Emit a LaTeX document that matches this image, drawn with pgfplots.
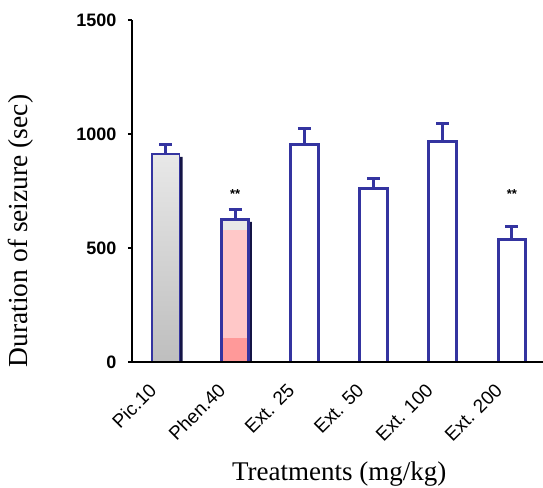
\documentclass[border=0pt]{standalone}
\usepackage{fontspec}
\setmainfont{Liberation Serif}
\newfontfamily\arial{Liberation Sans}
\usepackage{pgfplots}
\pgfplotsset{compat=1.18}
\definecolor{barblue}{RGB}{52,52,160}
\definecolor{navy}{RGB}{20,20,70}
\definecolor{pinkfill}{RGB}{255,200,200}
\definecolor{redfill}{RGB}{255,153,153}
\definecolor{graytop}{RGB}{232,232,232}
\definecolor{graybot}{RGB}{190,190,190}
\begin{document}
\begin{tikzpicture}
\begin{axis}[
 name=ax,
 scale only axis, width=411bp, height=342bp,
 xmin=-0.49, xmax=5.45, ymin=0, ymax=1500,
 axis x line*=bottom, axis y line*=left,
 axis line style={-, line width=1.3bp, black},
 axis on top,
 xtick={0,...,5},
 xticklabels={Pic.10, Phen.40, Ext. 25, Ext. 50, Ext. 100, Ext. 200},
 xtick style={draw=none},
 xticklabel style={font=\arial\fontsize{19bp}{19bp}\selectfont, rotate=45, anchor=east, inner sep=0pt, xshift=-24bp, yshift=-5.5bp},
 ytick={0,500,1000,1500},
 ytick style={line width=1.3bp, black},
 tick align=outside, major tick length=4bp,
 yticklabel style={font=\arial\bfseries\fontsize{18bp}{18bp}\selectfont, xshift=-8bp},
 /pgf/number format/assume math mode=true,
 /pgf/number format/1000 sep={},
 xlabel={Treatments (mg/kg)},
 ylabel={Duration of seizure (sec)},
 xlabel style={font=\fontsize{27bp}{30bp}\selectfont, at={(axis description cs:0.504,-0.327)}, anchor=center},
 ylabel style={font=\fontsize{27.5bp}{30bp}\selectfont, at={(axis description cs:-0.270,0.383)}, anchor=center},
]
% shadows
\addplot[ybar, bar width=0.4, bar shift=3bp, fill=navy, draw=none] coordinates {(0,900) (1,615)};
% Pic.10 bar
\addplot[ybar, bar width=0.4, bar shift=0pt, draw=barblue, line width=1.5bp, bottom color=graybot, top color=graytop,
  error bars/.cd, y dir=plus, y explicit,
  error bar style={line width=3bp, barblue},
  error mark options={rotate=90, mark size=6.5bp, line width=3bp, barblue}]
  coordinates {(0,912) +- (0,44)};
% Phen.40 fills
\addplot[ybar, bar width=0.4, bar shift=0pt, fill=graytop, draw=none] coordinates {(1,627)};
\addplot[ybar, bar width=0.4, bar shift=0pt, fill=pinkfill, draw=none] coordinates {(1,579)};
\addplot[ybar, bar width=0.4, bar shift=0pt, fill=redfill, draw=none] coordinates {(1,105)};
% outlined bars
\addplot[ybar, bar width=0.4, bar shift=0pt, draw=barblue, line width=3bp, fill=none,
  error bars/.cd, y dir=plus, y explicit,
  error bar style={line width=3bp, barblue},
  error mark options={rotate=90, mark size=6.5bp, line width=3bp, barblue}]
  coordinates {(1,627) +- (0,44) (2,956) +- (0,70) (3,759) +- (0,48) (4,969) +- (0,79) (5,537) +- (0,59)};
\node[font=\arial\bfseries\fontsize{13bp}{13bp}\selectfont] at (axis cs:1,735) {**};
\node[font=\arial\bfseries\fontsize{13bp}{13bp}\selectfont] at (axis cs:5,735) {**};
\end{axis}
\pgfresetboundingbox
\path ([shift={(-132bp,-126bp)}]ax.south west) rectangle ([shift={(0bp,20bp)}]ax.north east);
\end{tikzpicture}
\end{document}
